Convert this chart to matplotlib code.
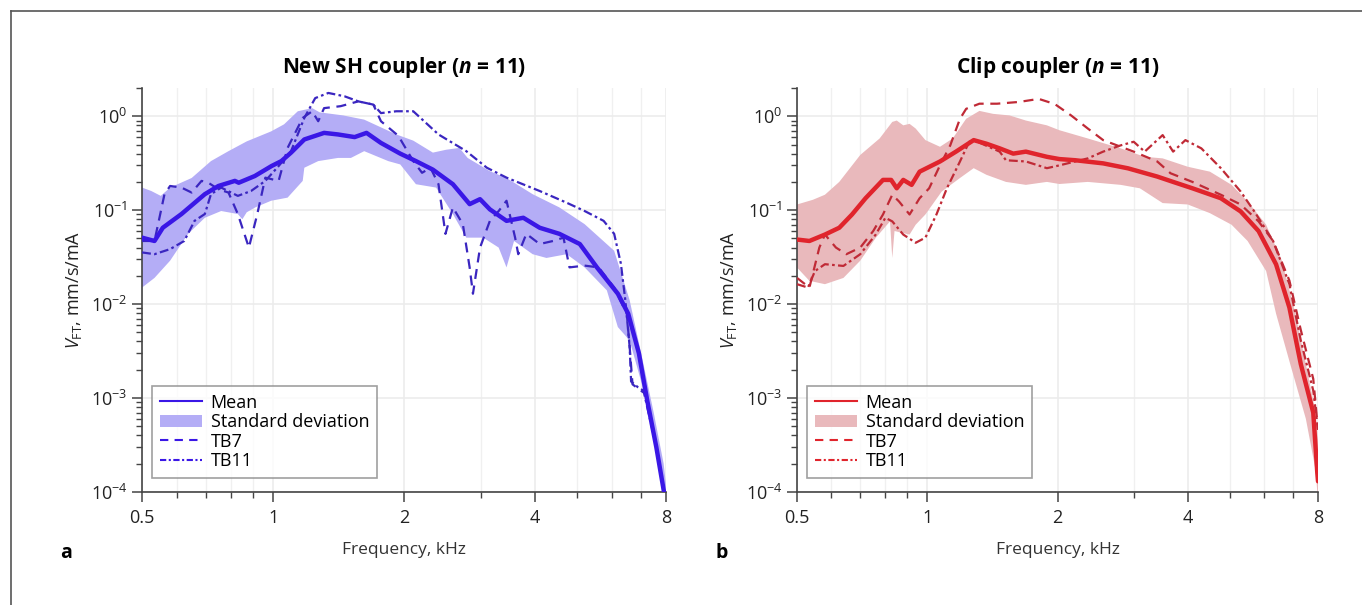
import matplotlib.pyplot as plt
import numpy as np
from matplotlib.lines import Line2D
from matplotlib.patches import Patch
from matplotlib.ticker import FixedLocator, NullFormatter, LogLocator

plt.rcParams['font.family'] = ['Open Sans', 'DejaVu Sans']
plt.rcParams['mathtext.fontset'] = 'custom'
plt.rcParams['mathtext.rm'] = 'Open Sans'
plt.rcParams['mathtext.it'] = 'Open Sans:italic'
plt.rcParams['mathtext.bf'] = 'Open Sans:italic:bold'

# ---- New SH coupler (panel a) ----
a_mean_f = [0.5, 0.534, 0.558, 0.616, 0.697, 0.749, 0.817, 0.834, 0.908, 0.992, 1.045, 1.10, 1.18, 1.31,
            1.41, 1.54, 1.64, 1.77, 1.96, 2.13, 2.33, 2.59, 2.83, 2.99, 3.15, 3.44, 3.76, 4.1, 4.55, 5.07,
            5.55, 6.2, 6.55, 6.93, 7.24, 7.6, 7.9, 8.0]
a_mean_v = [0.051, 0.047, 0.065, 0.091, 0.148, 0.181, 0.205, 0.196, 0.231, 0.295, 0.333, 0.41, 0.566, 0.665,
            0.64, 0.60, 0.665, 0.52, 0.40, 0.333, 0.27, 0.189, 0.116, 0.131, 0.102, 0.077, 0.083, 0.065, 0.056,
            0.0436, 0.0246, 0.0129, 0.0079, 0.003, 0.00095, 0.0003, 0.000105, 0.00009]
a_up_f = [0.5, 0.525, 0.552, 0.58, 0.65, 0.72, 0.79, 0.87, 0.99, 1.06, 1.14, 1.23, 1.28, 1.45, 1.62, 1.92,
          2.1, 2.33, 2.5, 2.68, 2.8, 3.15, 3.44, 3.95, 4.55, 5.2, 6.08, 6.6, 7.1, 7.5, 7.9, 8.0]
a_up_v = [0.174, 0.16, 0.142, 0.174, 0.22, 0.333, 0.425, 0.54, 0.69, 0.82, 1.13, 1.22, 1.1, 1.02, 0.92, 0.64,
          0.55, 0.41, 0.44, 0.46, 0.36, 0.26, 0.22, 0.148, 0.107, 0.071, 0.037, 0.011, 0.0023, 0.00069,
          0.0002, 0.00012]
a_lo_f = [0.5, 0.534, 0.58, 0.638, 0.697, 0.76, 0.83, 0.85, 0.87, 0.91, 0.99, 1.08, 1.17, 1.18, 1.27, 1.41,
          1.51, 1.62, 1.84, 1.96, 2.13, 2.37, 2.59, 2.78, 3.04, 3.3, 3.44, 3.58, 3.95, 4.25, 4.73, 5.2,
          5.85, 6.2, 6.6, 7.0, 7.4, 7.9, 8.0]
a_lo_v = [0.015, 0.019, 0.029, 0.056, 0.083, 0.098, 0.091, 0.08, 0.095, 0.107, 0.126, 0.136, 0.205, 0.283,
          0.333, 0.36, 0.36, 0.425, 0.333, 0.307, 0.189, 0.174, 0.091, 0.051, 0.051, 0.04, 0.0246, 0.047,
          0.034, 0.031, 0.034, 0.0246, 0.014, 0.0057, 0.0041, 0.00155, 0.00054, 0.000135, 0.00009]
a_tb7_f = [0.5, 0.534, 0.563, 0.58, 0.616, 0.65, 0.685, 0.71, 0.749, 0.79, 0.83, 0.88, 0.92, 0.96, 1.03,
           1.08, 1.17, 1.23, 1.27, 1.31, 1.43, 1.57, 1.70, 1.77, 1.94, 2.1, 2.2, 2.3, 2.4, 2.49, 2.59, 2.73,
           2.83, 2.88, 2.99, 3.15, 3.3, 3.44, 3.6, 3.66, 3.82, 4.1, 4.4, 4.65, 4.8, 5.2, 5.6, 6.08, 6.5,
           6.6, 6.7, 7.0, 7.2, 7.6, 7.9, 8.0]
a_tb7_v = [0.047, 0.047, 0.148, 0.181, 0.174, 0.154, 0.205, 0.196, 0.167, 0.154, 0.091, 0.040, 0.091, 0.222,
           0.205, 0.46, 0.96, 1.13, 0.885, 1.22, 1.28, 1.44, 1.33, 0.885, 0.62, 0.333, 0.25, 0.283, 0.189,
           0.056, 0.107, 0.071, 0.0246, 0.0129, 0.040, 0.077, 0.098, 0.126, 0.051, 0.034, 0.056, 0.0436,
           0.047, 0.051, 0.0246, 0.0257, 0.0246, 0.015, 0.0079, 0.0035, 0.0014, 0.0012, 0.0011, 0.0003,
           0.000105, 0.00009]
a_tb11_f = [0.5, 0.534, 0.58, 0.625, 0.66, 0.697, 0.72, 0.76, 0.83, 0.89, 0.96, 1.03, 1.1, 1.18, 1.25, 1.34,
            1.46, 1.57, 1.70, 1.77, 1.92, 2.1, 2.4, 2.78, 3.1, 3.44, 4.1, 4.73, 5.2, 5.75, 6.08, 6.3, 6.45,
            6.6, 6.65, 6.9, 7.1, 7.6, 7.9, 8.0]
a_tb11_v = [0.0355, 0.034, 0.0385, 0.047, 0.077, 0.091, 0.148, 0.174, 0.142, 0.16, 0.205, 0.295, 0.425, 0.96,
            1.56, 1.77, 1.63, 1.44, 1.33, 1.08, 1.13, 1.13, 0.64, 0.425, 0.283, 0.222, 0.16, 0.12, 0.098,
            0.077, 0.056, 0.027, 0.011, 0.0035, 0.0015, 0.0013, 0.0012, 0.0003, 0.000105, 0.00009]

# ---- Clip coupler (panel b) ----
b_mean_f = [0.5, 0.534, 0.58, 0.626, 0.67, 0.72, 0.79, 0.825, 0.85, 0.88, 0.92, 0.96, 1.07, 1.165, 1.28,
            1.37, 1.47, 1.58, 1.69, 1.89, 2.02, 2.2, 2.55, 2.91, 3.4, 3.7, 4.1, 4.77, 5.3, 5.83, 6.4, 6.87,
            7.3, 7.8, 7.97, 8.0]
b_mean_v = [0.0487, 0.047, 0.055, 0.065, 0.09, 0.134, 0.21, 0.21, 0.171, 0.21, 0.186, 0.257, 0.33, 0.42,
            0.557, 0.51, 0.455, 0.40, 0.42, 0.37, 0.35, 0.34, 0.315, 0.279, 0.228, 0.2, 0.171, 0.134, 0.097,
            0.06, 0.0265, 0.0092, 0.0023, 0.0007, 0.00016, 0.00013]
b_up_f = [0.5, 0.544, 0.58, 0.626, 0.7, 0.776, 0.83, 0.85, 0.88, 0.91, 0.94, 0.99, 1.07, 1.145, 1.23, 1.32,
          1.42, 1.55, 1.69, 1.89, 2.02, 2.35, 2.8, 3.18, 3.5, 4.0, 4.5, 5.05, 5.5, 6.07, 6.6, 7.1, 7.5,
          7.9, 8.0]
b_up_v = [0.115, 0.129, 0.146, 0.2, 0.387, 0.58, 0.87, 0.9, 0.8, 0.83, 0.74, 0.557, 0.473, 0.58, 0.94, 1.14,
          1.06, 1.02, 0.9, 0.80, 0.71, 0.58, 0.455, 0.37, 0.356, 0.29, 0.257, 0.186, 0.124, 0.07, 0.029,
          0.0078, 0.0023, 0.0007, 0.00036]
b_lo_f = [0.5, 0.534, 0.58, 0.64, 0.7, 0.76, 0.82, 0.83, 0.84, 0.91, 0.94, 0.99, 1.08, 1.19, 1.28, 1.37,
          1.52, 1.69, 1.89, 2.02, 2.35, 2.8, 3.1, 3.5, 4.0, 4.5, 5.05, 5.5, 6.07, 6.4, 6.9, 7.5, 7.9, 8.0]
b_lo_v = [0.0245, 0.0177, 0.0163, 0.019, 0.029, 0.0507, 0.076, 0.031, 0.06, 0.055, 0.07, 0.09, 0.158, 0.22,
          0.28, 0.238, 0.2, 0.186, 0.2, 0.19, 0.2, 0.186, 0.171, 0.119, 0.115, 0.093, 0.07, 0.047, 0.0225,
          0.0079, 0.0023, 0.0006, 0.00017, 0.00008]
b_tb7_f = [0.5, 0.534, 0.563, 0.58, 0.615, 0.65, 0.7, 0.75, 0.79, 0.83, 0.86, 0.91, 0.96, 1.01, 1.07, 1.13,
           1.19, 1.23, 1.32, 1.45, 1.63, 1.81, 1.97, 2.15, 2.35, 2.55, 2.8, 3.0, 3.4, 3.65, 4.1, 4.77, 5.3,
           5.83, 6.3, 6.87, 7.3, 7.8, 8.0]
b_tb7_v = [0.019, 0.015, 0.04, 0.055, 0.04, 0.034, 0.04, 0.06, 0.09, 0.146, 0.124, 0.09, 0.134, 0.171, 0.30,
           0.49, 0.94, 1.2, 1.36, 1.36, 1.42, 1.53, 1.35, 1.02, 0.74, 0.557, 0.473, 0.42, 0.33, 0.247,
           0.2, 0.146, 0.115, 0.076, 0.047, 0.0178, 0.0053, 0.0016, 0.00046]
b_tb11_f = [0.5, 0.53, 0.55, 0.58, 0.64, 0.7, 0.76, 0.8, 0.83, 0.88, 0.94, 0.99, 1.05, 1.11, 1.19, 1.25,
            1.28, 1.47, 1.52, 1.69, 1.89, 2.02, 2.35, 2.55, 2.8, 3.0, 3.18, 3.5, 3.7, 3.95, 4.3, 4.77, 5.3,
            5.7, 6.3, 6.87, 7.3, 7.8, 8.0]
b_tb11_v = [0.0163, 0.015, 0.0225, 0.0266, 0.0255, 0.034, 0.055, 0.083, 0.076, 0.055, 0.045, 0.051, 0.09,
            0.171, 0.33, 0.535, 0.557, 0.42, 0.34, 0.33, 0.28, 0.30, 0.356, 0.42, 0.49, 0.535, 0.42, 0.63,
            0.42, 0.557, 0.455, 0.28, 0.158, 0.097, 0.047, 0.0163, 0.0041, 0.0012, 0.00046]

panels = [
    dict(title=r'New SH coupler ($\mathbf{n}$ = 11)', letter='a', main='#3a17e6', band='#b4adf6',
         trace='#3a26c0', mean=(a_mean_f, a_mean_v), up=(a_up_f, a_up_v), lo=(a_lo_f, a_lo_v),
         tb7=(a_tb7_f, a_tb7_v), tb11=(a_tb11_f, a_tb11_v), left=0.1043, width=0.3847),
    dict(title=r'Clip coupler ($\mathbf{n}$ = 11)', letter='b', main='#e0242c', band='#e9b9bc',
         trace='#c02a36', mean=(b_mean_f, b_mean_v), up=(b_up_f, b_up_v), lo=(b_lo_f, b_lo_v),
         tb7=(b_tb7_f, b_tb7_v), tb11=(b_tb11_f, b_tb11_v), left=0.5852, width=0.3825),
]

fig = plt.figure(figsize=(13.62, 6.05), dpi=100)
fig.add_artist(Line2D([11 / 1362, 11 / 1362], [0, 1 - 11 / 605], color='#555555', lw=1.2))
fig.add_artist(Line2D([11 / 1362, 1], [1 - 11 / 605, 1 - 11 / 605], color='#555555', lw=1.2))

dashdot = (0, (4, 1.5, 1.2, 1.5))
for p in panels:
    ax = fig.add_axes([p['left'], 0.1868, p['width'], 0.6678])
    poly_f = list(p['up'][0]) + list(p['lo'][0])[::-1]
    poly_v = list(p['up'][1]) + list(p['lo'][1])[::-1]
    ax.fill(poly_f, poly_v, color=p['band'], lw=0, zorder=1)
    ax.plot(*p['tb7'], color=p['trace'], lw=1.6, ls=(0, (4.5, 3)), zorder=3)
    ax.plot(*p['tb11'], color=p['trace'], lw=1.6, ls=dashdot, zorder=3)
    ax.plot(*p['mean'], color=p['main'], lw=3.2, zorder=4, solid_capstyle='round')

    ax.set_xscale('log')
    ax.set_yscale('log')
    ax.set_xlim(0.5, 8)
    ax.set_ylim(1e-4, 2)
    ax.xaxis.set_major_locator(FixedLocator([0.5, 1, 2, 4, 8]))
    ax.xaxis.set_minor_locator(FixedLocator([0.6, 0.7, 0.8, 0.9, 3, 5, 6, 7]))
    ax.xaxis.set_minor_formatter(NullFormatter())
    ax.set_xticklabels(['0.5', '1', '2', '4', '8'])
    ax.yaxis.set_major_locator(FixedLocator([1e-4, 1e-3, 1e-2, 1e-1, 1]))
    ax.yaxis.set_minor_locator(LogLocator(base=10, subs=np.arange(2, 10)))
    ax.yaxis.set_minor_formatter(NullFormatter())
    ax.grid(True, which='major', color='#ececec', lw=1.2, zorder=0)
    ax.grid(True, which='minor', axis='x', color='#f0f0f0', lw=1.0, zorder=0)
    ax.set_axisbelow(True)
    for s in ['top', 'right']:
        ax.spines[s].set_visible(False)
    for s in ['left', 'bottom']:
        ax.spines[s].set_color('#444444')
        ax.spines[s].set_linewidth(1.2)
    ax.tick_params(which='major', length=7, width=1.1, color='#444444', labelsize=13,
                   labelcolor='#222222')
    ax.tick_params(axis='x', which='major', pad=5)
    ax.tick_params(which='minor', length=4, width=1.0, color='#444444')
    ax.set_xlabel('Frequency, kHz', fontsize=12.5, color='#333333', labelpad=11)
    ax.set_ylabel(r'$V_{\mathrm{FT}}$, mm/s/mA', fontsize=13, color='#222222', labelpad=5)
    ax.set_title(p['title'], fontsize=15, fontweight='bold', pad=11)

    handles = [Line2D([], [], color=p['main'], lw=1.5),
               Patch(facecolor=p['band'], edgecolor='none'),
               Line2D([], [], color=p['main'], lw=1.5, ls=(0, (4, 3))),
               Line2D([], [], color=p['main'], lw=1.5, ls=(0, (3, 1.2, 1, 1.2)))]
    leg = ax.legend(handles, ['Mean', 'Standard deviation', 'TB7', 'TB11'], loc='lower left',
                    bbox_to_anchor=(0.012, 0.025), fontsize=13, frameon=True, fancybox=False,
                    handlelength=2.3, handletextpad=0.5, labelspacing=0.08, borderpad=0.45,
                    borderaxespad=0.2)
    leg.get_frame().set_edgecolor('#888888')
    leg.get_frame().set_linewidth(1.2)

    fig.text(p['left'] - 0.06, 0.078, p['letter'], fontsize=14, fontweight='bold')

fig.savefig('out.png', dpi=100)
